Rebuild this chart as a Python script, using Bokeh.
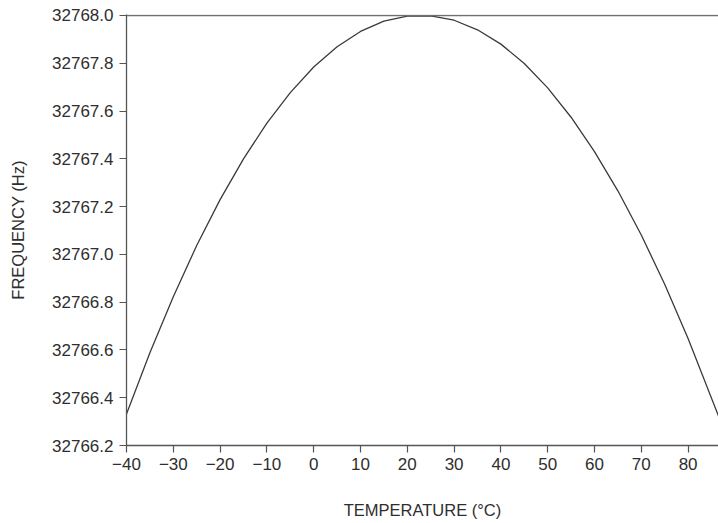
from bokeh.plotting import figure
from bokeh.models import Range1d, FixedTicker, PrintfTickFormatter, Span
from bokeh.embed import file_html
from bokeh.resources import INLINE

# Temperature (°C) and crystal frequency (Hz)
temps = [-40, -35, -30, -25, -20, -15, -10, -5, 0, 5, 10, 15, 20, 25,
         30, 35, 40, 45, 50, 55, 60, 65, 70, 75, 80, 86.5]
freqs = [32766.332, 32766.588, 32766.823, 32767.037, 32767.229, 32767.400,
         32767.549, 32767.677, 32767.784, 32767.869, 32767.933, 32767.976,
         32767.997, 32767.998, 32767.980, 32767.940, 32767.880, 32767.799,
         32767.697, 32767.574, 32767.430, 32767.266, 32767.081, 32766.875,
         32766.648, 32766.323]

x_ticks = [-40, -30, -20, -10, 0, 10, 20, 30, 40, 50, 60, 70, 80]
y_ticks = [32766.2, 32766.4, 32766.6, 32766.8, 32767.0, 32767.2,
           32767.4, 32767.6, 32767.8, 32768.0]
x_label = "TEMPERATURE (°C)"
y_label = "FREQUENCY (Hz)"
reference_freq = 32768.0

FONT = "Liberation Sans"
TXT = "#2e2e2e"
LINE = "#555555"

p = figure(width=718, height=523, output_backend="svg", toolbar_location=None,
           x_range=Range1d(-40, 86.5), y_range=Range1d(32766.2, 32768.004),
           min_border_left=126, min_border_right=0, min_border_top=14,
           min_border_bottom=78)

p.outline_line_color = None
p.xgrid.visible = False
p.ygrid.visible = False
p.background_fill_color = "white"
p.border_fill_color = "white"

p.line(temps, freqs, line_color="#3a3a3a", line_width=1.3)

p.add_layout(Span(location=reference_freq, dimension="width",
                  line_color="#707070", line_width=1.5))

for ax in (p.xaxis[0], p.yaxis[0]):
    ax.axis_line_color = LINE
    ax.axis_line_width = 1.3
    ax.major_tick_line_color = LINE
    ax.major_tick_line_width = 1.2
    ax.major_tick_out = 7
    ax.major_tick_in = 0
    ax.minor_tick_line_color = None
    ax.major_label_text_font = FONT
    ax.major_label_text_font_size = "17px"
    ax.major_label_text_color = TXT
    ax.major_label_standoff = 6
    ax.axis_label_text_font = FONT
    ax.axis_label_text_font_size = "16.5px"
    ax.axis_label_text_font_style = "normal"
    ax.axis_label_text_color = TXT

p.xaxis.ticker = FixedTicker(ticks=x_ticks)
p.xaxis.major_label_overrides = {t: ("\u2212" + str(-t) if t < 0 else str(t)) for t in x_ticks}
p.xaxis.axis_label = x_label
p.xaxis.major_label_standoff = 5
p.xaxis.axis_label_standoff = 28

p.yaxis.ticker = FixedTicker(ticks=y_ticks)
p.yaxis.formatter = PrintfTickFormatter(format="%.1f")
p.yaxis.axis_label = y_label
p.yaxis.axis_label_standoff = 22

open("out.html", "w").write(file_html(p, INLINE))
